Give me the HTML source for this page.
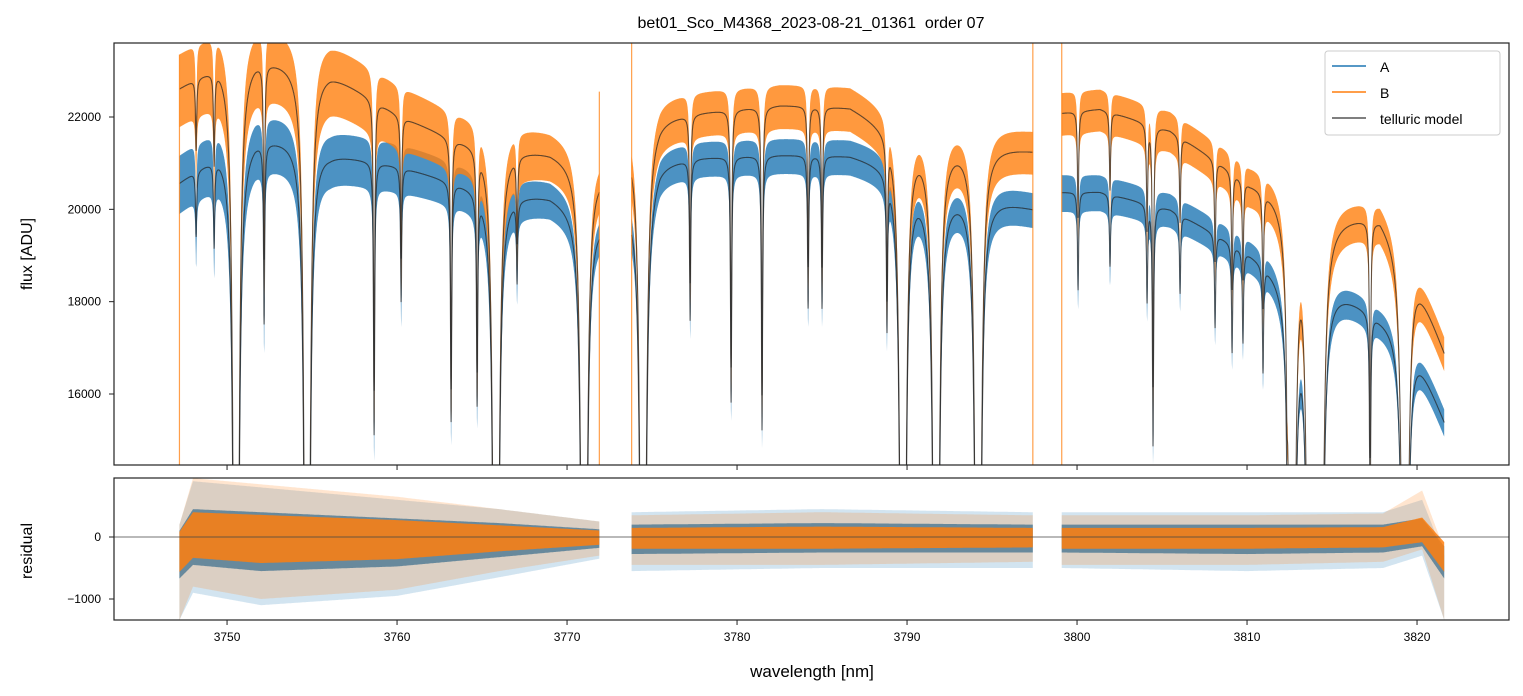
<!DOCTYPE html>
<html><head><meta charset="utf-8"><style>
html,body{margin:0;background:#fff;overflow:hidden;width:1523px;height:696px;}
svg{display:block;font-family:"Liberation Sans","DejaVu Sans",sans-serif;}
</style></head><body>
<svg id="chart" width="1523" height="696" viewBox="0 0 1523 696">
<defs>
<clipPath id="clipTop"><rect x="114" y="43" width="1395" height="422"/></clipPath>
<clipPath id="clipBot"><rect x="114" y="478" width="1395" height="142"/></clipPath>
</defs>
<text x="811" y="28" text-anchor="middle" font-size="16" style="white-space:pre">bet01_Sco_M4368_2023-08-21_01361  order 07</text>
<g id="topPlot" clip-path="url(#clipTop)"></g>
<g id="botPlot" clip-path="url(#clipBot)"></g>
<rect x="114" y="43" width="1395" height="422" fill="none" stroke="#222" stroke-width="1.2"/>
<rect x="114" y="478" width="1395" height="142" fill="none" stroke="#222" stroke-width="1.2"/>
<g id="axes"></g>
<text x="812" y="677" text-anchor="middle" font-size="17">wavelength [nm]</text>
<text transform="translate(32,254) rotate(-90)" text-anchor="middle" font-size="16">flux [ADU]</text>
<text transform="translate(32,551) rotate(-90)" text-anchor="middle" font-size="16">residual</text>
<g>
<rect x="1325" y="51" width="175" height="84" rx="3" fill="#fff" fill-opacity="0.8" stroke="#ccc"/>
<line x1="1332" y1="66" x2="1366" y2="66" stroke="#1f77b4" stroke-width="1.5"/>
<text x="1380" y="72" font-size="14">A</text>
<line x1="1332" y1="92" x2="1366" y2="92" stroke="#ff7f0e" stroke-width="1.5"/>
<text x="1380" y="98" font-size="14">B</text>
<line x1="1332" y1="118" x2="1366" y2="118" stroke="#555" stroke-width="1.5"/>
<text x="1380" y="124" font-size="14">telluric model</text>
</g>
</svg>
<script>
const xTicks=[3750,3760,3770,3780,3790,3800,3810,3820];
const yTicks=[16000,18000,20000,22000];
const rTicks=[-1000,0];
const segStart=[3747.2,3773.8,3799.1];
const segEnd=[3771.9,3797.4,3821.6];
const contWl=[3747.18,3749.59,3751.65,3754.29,3756.06,3760.18,3763.12,3766.06,3769.0,3771.9,
3773.82,3775.47,3777.82,3782.53,3786.65,3789.59,3791.35,3793.7,3797.4,
3799.1,3801.35,3805.47,3810.18,3813.12,3814.88,3817.82,3819.59,3821.6];
const contA=[20600,21300,21600,21550,21250,20950,20650,20400,20330,19850,
20300,21050,21150,21200,21200,20950,20400,20400,20050,
20400,20400,20030,19100,18450,18450,17720,17350,15450];
const contB=[22650,23250,23350,23200,23000,22050,21600,21380,21280,20900,
21600,22020,22130,22280,22250,21700,21500,21480,21300,
22120,22200,21740,20620,20300,19900,19900,18980,16950];
const noiseWl=[3747.2,3760,3771.9,3773.8,3797.4,3799.1,3815,3821.6];
const noiseA=[600,500,330,360,360,380,300,280];
const noiseB=[750,650,420,460,440,440,380,350];
const lineWl=[3750.53,3754.71,3765.82,3771.0,3774.47,3789.76,3791.71,3794.18,3812.65,3813.71,3814.29,3819.29,3804.47,
3752.18,3749.24,3748.18,3758.65,3760.24,3763.18,3764.71,3767.06,3777.24,3779.65,3781.47,3784.18,3785.0,3788.82,
3800.06,3801.94,3804.12,3806.06,3808.12,3809.12,3809.76,3810.94,3812.35,3817.24];
const lineTau=[5,5,5,5,5,5,5,5,5,5,5,5,0.3,
0.2,0.09,0.07,0.33,0.15,0.29,0.25,0.09,0.18,0.29,0.33,0.17,0.17,0.17,
0.11,0.08,0.11,0.09,0.11,0.13,0.11,0.13,0.09,0.3];
const resWl=[3747.2,3748,3752,3760,3766,3771.9,3773.8,3785,3797.4,3799.1,3810,3818,3820.3,3821.6];
const resAUp=[200,900,800,600,450,250,400,450,400,400,400,400,600,-300];
const resALo=[-1340,-900,-1100,-950,-650,-350,-550,-500,-500,-500,-550,-500,-300,-1340];
const resBUp=[200,950,850,650,450,250,350,400,350,350,350,380,750,-200];
const resBLo=[-1340,-800,-1000,-850,-550,-300,-450,-450,-400,-450,-450,-400,-200,-1340];
const spikeWl=[3747.2,3771.9,3773.8,3797.4,3799.1];
const spikeTop=[23350,22550,23603,23603,23603];

const NS='http://www.w3.org/2000/svg';
const X0=3743.35,X1=3825.41;
function sx(v){return 114+(v-X0)/(X1-X0)*1395;}
function sy(v){return 43+(23603-v)/(23603-14462)*422;}
function ry(v){return 478+(952-v)/(952+1339)*142;}
function interp(xs,ys,x){
  if(x<=xs[0])return ys[0];
  for(let i=1;i<xs.length;i++){if(x<=xs[i]){const t=(x-xs[i-1])/(xs[i]-xs[i-1]);return ys[i-1]+t*(ys[i]-ys[i-1]);}}
  return ys[ys.length-1];
}
function trans(w){
  let tau=0;
  for(let i=0;i<lineWl.length;i++){
    const deep=lineTau[i]>1;const wd=deep?0.06:0.04;const d=w-lineWl[i];
    tau+=lineTau[i]*wd*wd/(d*d+wd*wd);
  }
  return Math.exp(-tau);
}
function el(tag,attrs,parent){const e=document.createElementNS(NS,tag);for(const k in attrs)e.setAttribute(k,attrs[k]);parent.appendChild(e);return e;}
const topG=document.getElementById('topPlot');
const botG=document.getElementById('botPlot');
const axesG=document.getElementById('axes');

function band(seg,contArr,noiseArr,color,name){
  let up='',lo=[];
  for(let w=segStart[seg];w<=segEnd[seg]+1e-9;w+=0.01){
    const m=interp(contWl,contArr,w)*trans(w);const n=interp(noiseWl,noiseArr,w);
    up+=(up?'L':'M')+sx(w).toFixed(1)+','+sy(m+n).toFixed(1);
    lo.push('L'+sx(w).toFixed(1)+','+sy(m-n*1.1).toFixed(1));
  }
  const p=el('path',{d:up+lo.reverse().join('')+'Z',fill:color,'fill-opacity':0.8},topG);
  
  
}
function modelLine(seg,contArr,name){
  let d='';
  for(let w=segStart[seg];w<=segEnd[seg]+1e-9;w+=0.01){
    const m=interp(contWl,contArr,w)*trans(w);
    d+=(d?'L':'M')+sx(w).toFixed(1)+','+sy(m).toFixed(1);
  }
  const p=el('path',{d:d,fill:'none',stroke:'#222','stroke-opacity':0.7,'stroke-width':1.1},topG);
  
  
}
for(let s=0;s<3;s++)band(s,contA,noiseA,'#1f77b4','series-a-flux');
for(let s=0;s<3;s++)band(s,contB,noiseB,'#ff7f0e','series-b-flux');
for(let s=0;s<3;s++){modelLine(s,contA,'telluric-model-a');modelLine(s,contB,'telluric-model-b');}
for(let i=0;i<spikeWl.length;i++){
  const l=el('line',{x1:sx(spikeWl[i]),x2:sx(spikeWl[i]),y1:465,y2:sy(spikeTop[i]),stroke:'#ff7f0e','stroke-opacity':0.75,'stroke-width':1.2},topG);
  
  
}
function resBand(seg,upArr,loArr,scale,color,op,name){
  let up='',lo=[];
  for(let w=segStart[seg];w<=segEnd[seg]+1e-9;w+=0.05){
    up+=(up?'L':'M')+sx(w).toFixed(1)+','+ry(interp(resWl,upArr,w)*scale).toFixed(1);
    lo.push('L'+sx(w).toFixed(1)+','+ry(interp(resWl,loArr,w)*scale).toFixed(1));
  }
  const p=el('path',{d:up+lo.reverse().join('')+'Z',fill:color,'fill-opacity':op},botG);
  
  
}
for(let s=0;s<3;s++){resBand(s,resAUp,resALo,1,'#1f77b4',0.2,'residual-a-outer');resBand(s,resAUp,resALo,0.5,'#1f77b4',0.8,'residual-a');}
for(let s=0;s<3;s++){resBand(s,resBUp,resBLo,1,'#ff7f0e',0.2,'residual-b-outer');resBand(s,resBUp,resBLo,0.42,'#ff7f0e',0.85,'residual-b');}
const zl=el('line',{x1:114,x2:1509,y1:ry(0),y2:ry(0),stroke:'#444','stroke-width':0.8},botG);



xTicks.forEach(v=>{
  const x=sx(v);
  const t1=el('line',{x1:x,x2:x,y1:465,y2:470,stroke:'#222'},axesG);
  
  
  const t2=el('line',{x1:x,x2:x,y1:620,y2:625,stroke:'#222'},axesG);
  
  
  const tx=el('text',{x:x,y:641,'text-anchor':'middle','font-size':12},axesG);
  tx.textContent=v;
  
  
});
yTicks.forEach(v=>{
  const y=sy(v);
  const t=el('line',{x1:109,x2:114,y1:y,y2:y,stroke:'#222'},axesG);
  
  
  const tx=el('text',{x:101,y:y+4,'text-anchor':'end','font-size':12},axesG);
  tx.textContent=v;
  
  
});
rTicks.forEach(v=>{
  const y=ry(v);
  const t=el('line',{x1:109,x2:114,y1:y,y2:y,stroke:'#222'},axesG);
  
  
  const tx=el('text',{x:101,y:y+4,'text-anchor':'end','font-size':12},axesG);
  tx.textContent=v===-1000?'\u22121000':v;
  
  
});
</script>
</body></html>
